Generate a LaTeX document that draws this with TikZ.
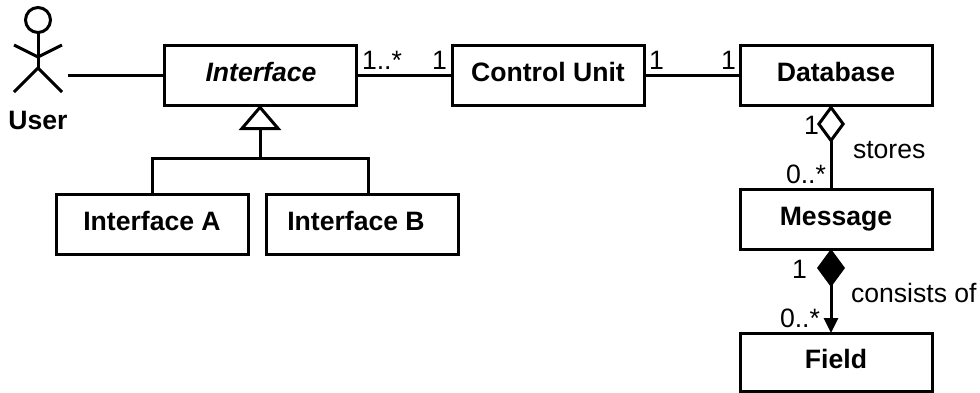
\documentclass[tikz,border=0pt]{standalone}
\usepackage{fontspec}
\setmainfont{Liberation Sans}
\usetikzlibrary{arrows.meta}
\tikzset{
  line/.style={line width=3pt,black},
  umlbox/.style={draw,line width=3pt,rectangle,minimum width=192pt,minimum height=60pt,inner sep=0pt,outer sep=0pt,
    font=\fontsize{26.6}{30}\selectfont\bfseries,text height=19pt,text depth=6pt},
  lab/.style={inner sep=0pt,outer sep=0pt,anchor=base west,font=\fontsize{26.6}{30}\selectfont},
}
\begin{document}
\begin{tikzpicture}[x=1pt,y=-1pt]
\useasboundingbox (0,0) rectangle (980,392);
% boxes
\node[umlbox] (iface) at (260,75) {\hspace*{2pt}\itshape Interface};
\node[umlbox] (cu) at (548,75) {Control Unit};
\node[umlbox] (db) at (836,75) {Database};
\node[umlbox] (ia) at (152,224) {Interface A};
\node[umlbox] (ib) at (362,224) {\hspace*{-12pt}Interface B};
\node[umlbox] (msg) at (836,219) {Message};
\node[umlbox,minimum height=58pt] (field) at (836,362) {Field};
% actor
\node[circle,draw,line width=3pt,minimum size=25pt,inner sep=0pt,outer sep=0pt] (head) at (38,20) {};
\coordinate (hip) at (38,68);
\coordinate (shoulder) at (38,57);
\coordinate (handl) at (14,45);
\coordinate (handr) at (62,45);
\coordinate (footl) at (14,92);
\coordinate (footr) at (62,92);
\coordinate (userend) at (68,75);
\draw[line] (head.south) -- (hip);
\draw[line] (handl) -- (shoulder) -- (handr);
\draw[line] (footl) -- (hip) -- (footr);
\node[lab,font=\fontsize{26.6}{30}\selectfont\bfseries,anchor=base] (user) at (38,129) {User};
% associations
\draw[line] (userend) -- (iface.west);
\draw[line] (iface.east) -- (cu.west);
\draw[line] (cu.east) -- (db.west);
% generalisation
\coordinate (hub) at (260,158);
\coordinate (ial) at (152,158);
\coordinate (ibl) at (368,158);
\draw[line,{Triangle[open,length=25pt,width=42pt]}-] (iface.south) -- (hub);
\draw[line] (ia.north -| ial) -- (ial) -- (ibl) -- (ib.north -| ibl);
% aggregation and composition
\coordinate (dbs) at (831,105);
\coordinate (msn) at (831,189);
\coordinate (mss) at (831,249);
\coordinate (fin) at (831,333);
\draw[line,{Diamond[open,length=38pt,width=28pt]}-] (dbs) -- (msn);
\draw[line,{Diamond[fill=black,length=38pt,width=28pt]}-{Triangle[fill=black,length=15pt,width=14pt]}] (mss) -- (fin);
% labels
\node[lab] (m1) at (362,69) {1..*};
\node[lab] (m2) at (432,69) {1};
\node[lab] (m3) at (649,69) {1};
\node[lab] (m4) at (721,69) {1};
\node[lab] (m5) at (804,134) {1};
\node[lab] (t1) at (853,158) {stores};
\node[lab] (m6) at (786,183) {0..*};
\node[lab] (m7) at (792,278) {1};
\node[lab] (t2) at (851,302) {consists of};
\node[lab] (m8) at (780,327) {0..*};
\end{tikzpicture}
\end{document}
